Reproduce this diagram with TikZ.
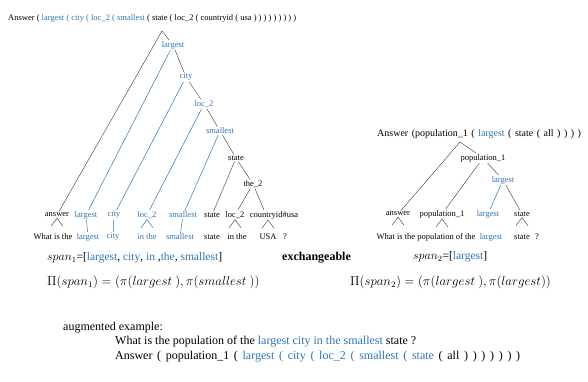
\documentclass[tikz,border=0pt]{standalone}
\usepackage{graphicx}
\usepackage{fontspec}
\setmainfont{Liberation Serif}

\definecolor{qblue}{RGB}{46,117,182}

\tikzset{
  arbol/.style={font=\fontsize{8.5}{10}\selectfont, inner sep=1pt},
  azul/.style={text=qblue},
  texto/.style={font=\fontsize{12}{14}\selectfont, inner sep=0pt, anchor=west},
  rama/.style={draw=black!80, line width=0.4pt},
  ramaazul/.style={draw=qblue, line width=0.5pt},
}

% pequeño "/\" entre hoja y palabras
\newcommand{\caret}[3][0pt]{\draw[#2] ([xshift=#1-6pt,yshift=-8pt]#3.south) -- ([xshift=#1]#3.south) -- ([xshift=#1+6pt,yshift=-8pt]#3.south);}

\begin{document}
\begin{tikzpicture}[x=1pt,y=-1pt]
  \useasboundingbox (0,0) rectangle (588,382);

  % Arbol 1 (forma logica)
  \node[arbol, anchor=west, inner sep=0pt] (t1) at (8,18) {Answer ( \textcolor{qblue}{largest ( city ( loc\_2 ( smallest} ( state ( loc\_2 ( countryid ( usa ) ) ) ) ) ) ) ) )};
  \coordinate (r1) at (162,31);
  \node[arbol,azul] (c-largest) at (173,45) {largest};
  \node[arbol,azul] (c-city) at (186,77) {city};
  \node[arbol,azul] (c-loc) at (204,104) {loc\_2};
  \node[arbol,azul] (c-smallest) at (220,131) {smallest};
  \node[arbol] (c-state) at (236,158) {state};
  \node[arbol] (c-the) at (253,184) {the\_2};

  % Hojas del arbol 1
  \node[arbol] (l1-answer) at (57,215) {answer};
  \node[arbol,azul] (l1-largest) at (86,215) {largest};
  \node[arbol,azul] (l1-city) at (114,215) {city};
  \node[arbol,azul] (l1-loc) at (147,215) {loc\_2};
  \node[arbol,azul] (l1-smallest) at (183,215) {smallest};
  \node[arbol] (l1-state) at (212,215) {state};
  \node[arbol] (l1-loc2) at (235,215) {loc\_2};
  \node[arbol] (l1-cid) at (274,215) {countryid\#usa};

  % Palabras de la pregunta 1
  \node[arbol] (w1-what) at (53,237) {What is the};
  \node[arbol,azul] (w1-largest) at (88,237) {largest};
  \node[arbol,azul] (w1-city) at (113,237) {city};
  \node[arbol,azul] (w1-inthe) at (147,237) {in the};
  \node[arbol,azul] (w1-smallest) at (180,237) {smallest};
  \node[arbol] (w1-state) at (212,237) {state};
  \node[arbol] (w1-inthe2) at (237,237) {in the};
  \node[arbol] (w1-usa) at (268,237) {USA};
  \node[arbol] (w1-q) at (285,237) {?};

  % Ramas del arbol 1
  \draw[rama] (r1) -- (l1-answer);
  \draw[rama] (r1) -- (c-largest) -- (c-city) -- (c-loc) -- (c-smallest) -- (c-state) -- (c-the);
  \draw[rama] (c-state) -- (l1-state);
  \draw[rama] (c-the) -- (l1-loc2);
  \draw[rama] (c-the) -- ([xshift=-10pt]l1-cid.north);
  \draw[ramaazul] (c-largest) -- (l1-largest);
  \draw[ramaazul] (c-city) -- (l1-city);
  \draw[ramaazul] (c-loc) -- (l1-loc);
  \draw[ramaazul] (c-smallest) -- (l1-smallest);
  \draw[ramaazul] (l1-largest) -- (w1-largest);
  \draw[ramaazul] (l1-city) -- (w1-city);
  \draw[ramaazul] (l1-smallest) -- (w1-smallest);
  \caret{rama}{l1-answer}
  \caret{ramaazul}{l1-loc}
  \caret{rama}{l1-loc2}
  \caret[-6pt]{rama}{l1-cid}

  % Arbol 2
  \node[arbol, anchor=west, inner sep=0pt, font=\fontsize{10}{11}\selectfont] (t2) at (377,134) {\spaceskip=3.5pt\relax Answer (population\_1 ( \textcolor{qblue}{largest} ( state ( all ) ) ) )};
  \coordinate (r2) at (460,142);
  \node[arbol] (p-pop) at (483,158) {population\_1};
  \node[arbol,azul] (p-largest) at (503,180) {largest};

  \node[arbol] (l2-answer) at (398,214) {answer};
  \node[arbol] (l2-pop) at (442,214) {population\_1};
  \node[arbol,azul] (l2-largest) at (488,214) {largest};
  \node[arbol] (l2-state) at (522,214) {state};

  \node[arbol] (w2-what) at (426,237) {What is the population of the};
  \node[arbol,azul] (w2-largest) at (491,237) {largest};
  \node[arbol] (w2-state) at (522,237) {state};
  \node[arbol] (w2-q) at (537,237) {?};

  \draw[rama] (r2) -- (l2-answer);
  \draw[rama] (r2) -- (p-pop);
  \draw[rama] (p-pop) -- (l2-pop);
  \draw[rama] (p-pop) -- (p-largest);
  \draw[ramaazul] (p-largest) -- (l2-largest);
  \draw[rama] (p-largest) -- (l2-state);
  \caret{rama}{l2-answer}
  \caret{rama}{l2-pop}
  \caret{rama}{l2-state}

  % Spans
  \node[texto, font=\fontsize{11.5}{14}\selectfont] (s1) at (47,258) {$span_1$=[\textcolor{qblue}{largest}, \textcolor{qblue}{city}, \textcolor{qblue}{in} ,\textcolor{qblue}{the}, \textcolor{qblue}{smallest}]};
  \node[texto, font=\fontsize{12}{14}\selectfont\bfseries] (ex) at (282,258) {exchangeable};
  \node[texto, font=\fontsize{11.5}{14}\selectfont] (s2) at (413,257) {$span_2$=[\textcolor{qblue}{largest}]};
  \node[texto] (pi1) at (47,282) {\scalebox{1.075}{$\Pi(span_1)=(\pi(largest\ ),\pi(smallest\ ))$}};
  \node[texto] (pi2) at (350,282) {\scalebox{1.075}{$\Pi(span_2)=(\pi(largest\ ),\pi(largest))$}};

  % Ejemplo aumentado
  \node[texto] (aug) at (63,328) {augmented example:};
  \node[texto] (q) at (115,342) {What is the population of the \textcolor{qblue}{largest city in the smallest} state ?};
  \node[texto] (a) at (115,357) {\spaceskip=4.7pt\relax Answer ( population\_1 ( \textcolor{qblue}{largest ( city ( loc\_2 ( smallest ( state} ( all ) ) ) ) ) ) )};
\end{tikzpicture}
\end{document}
